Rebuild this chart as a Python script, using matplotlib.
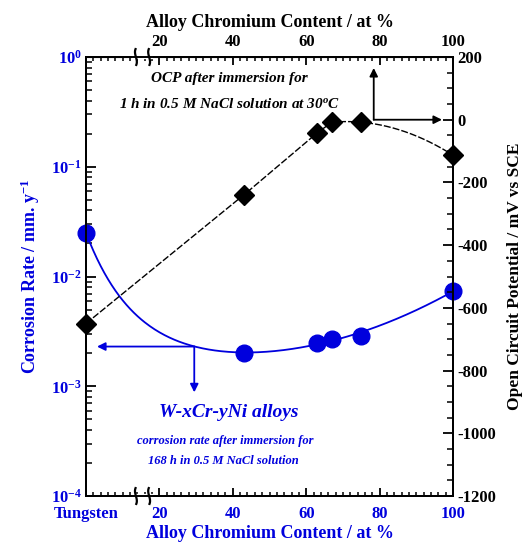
import numpy as np
import matplotlib
matplotlib.use("Agg")
import matplotlib.pyplot as plt
from matplotlib.ticker import MultipleLocator, FixedLocator, FixedFormatter, LogLocator, NullFormatter
import matplotlib.transforms as mtransforms

plt.rcParams['font.family'] = ['Liberation Serif', 'DejaVu Serif']
plt.rcParams['font.weight'] = 'bold'
plt.rcParams['mathtext.fontset'] = 'custom'
plt.rcParams['mathtext.rm'] = 'Liberation Serif:bold'
plt.rcParams['mathtext.it'] = 'Liberation Serif:italic:bold'
plt.rcParams['mathtext.bf'] = 'Liberation Serif:bold'
plt.rcParams['axes.unicode_minus'] = False

BLUE = '#0000DD'

# ---- data ----
cr_content = [0, 43, 63, 67, 75, 100]            # at % Cr (0 = pure tungsten)
corrosion_rate = [0.025, 0.0020, 0.0025, 0.0027, 0.0029, 0.0074]  # mm/y
ocp_content = [0, 43, 63, 67, 75, 100]
ocp_values = [-650, -240, -42, -8, -8, -113]     # mV vs SCE

x_ticks = [0, 20, 40, 60, 80, 100]
x_ticklabels_bottom = ['Tungsten', '20', '40', '60', '80', '100']
x_ticklabels_top = ['', '20', '40', '60', '80', '100']

fig = plt.figure(figsize=(5.26, 5.46), dpi=100)
ax = fig.add_axes([86/526, 50/546, (453-86)/526, (496-57)/546])

# ---- corrosion rate (left, log) ----
ax.set_yscale('log')
ax.set_xlim(0, 100)
ax.set_ylim(1e-4, 1)
# smooth trend curve: least-squares fit in log space (decay + quadratic)
xc = np.asarray(cr_content, float)
basis = lambda x: np.column_stack([np.ones_like(x), np.exp(-x / 12.0), x, x**2])
coef, *_ = np.linalg.lstsq(basis(xc), np.log10(corrosion_rate), rcond=None)
xs = np.linspace(0, 100, 300)
ax.plot(xs, 10**(basis(xs) @ coef), color=BLUE, lw=1.3, zorder=2)
ax.plot(cr_content, corrosion_rate, 'o', color=BLUE, ms=12, zorder=3, clip_on=False)

ax.yaxis.set_major_locator(LogLocator(base=10, numticks=10))
ax.yaxis.set_minor_locator(LogLocator(base=10, subs=np.arange(2, 10), numticks=10))
ax.yaxis.set_minor_formatter(NullFormatter())
ax.tick_params(axis='y', which='both', direction='in', colors='black', labelcolor=BLUE, labelsize=12, pad=3)
ax.tick_params(axis='y', which='major', length=7, width=1.3)
ax.tick_params(axis='y', which='minor', length=4, width=1.1)
ax.set_ylabel('Corrosion Rate / mm. y$^{-1}$', color=BLUE, fontsize=13, fontweight='bold', labelpad=6)

ax.xaxis.set_major_locator(FixedLocator(x_ticks))
ax.xaxis.set_major_formatter(FixedFormatter(x_ticklabels_bottom))
ax.xaxis.set_minor_locator(MultipleLocator(2))
ax.tick_params(axis='x', which='both', direction='in', labelcolor=BLUE, labelsize=12, pad=7)
ax.tick_params(axis='x', which='major', length=6, width=1.3)
ax.tick_params(axis='x', which='minor', length=3, width=1.1)
ax.set_xlabel('Alloy Chromium Content / at %', color=BLUE, fontsize=13, fontweight='bold', labelpad=2)
for lab in ax.get_xticklabels():
    lab.set_fontweight('bold')
for lab in ax.get_yticklabels():
    lab.set_fontweight('bold')

# blue arrows (indicating corrosion-rate axis)
arrow_x, arrow_y = 29.5, 0.0023
ax.annotate('', xy=(3, arrow_y), xytext=(arrow_x, arrow_y),
            arrowprops=dict(arrowstyle='-|>', color=BLUE, lw=1.3, mutation_scale=12, shrinkA=0, shrinkB=0))
ax.annotate('', xy=(arrow_x, 0.00088), xytext=(arrow_x, arrow_y),
            arrowprops=dict(arrowstyle='-|>', color=BLUE, lw=1.3, mutation_scale=12, shrinkA=0, shrinkB=0))

# top axis
top = ax.secondary_xaxis('top')
top.xaxis.set_major_locator(FixedLocator(x_ticks))
top.xaxis.set_major_formatter(FixedFormatter(x_ticklabels_top))
top.xaxis.set_minor_locator(MultipleLocator(2))
top.tick_params(which='both', direction='in', labelsize=12, pad=5)
top.tick_params(which='major', length=6, width=1.3)
top.tick_params(which='minor', length=3, width=1.1)
top.set_xlabel('Alloy Chromium Content / at %', fontsize=13, fontweight='bold', labelpad=5)
for lab in top.get_xticklabels():
    lab.set_fontweight('bold')

# ---- OCP (right) ----
ax2 = ax.twinx()
ax2.set_ylim(-1200, 200)
ax2.yaxis.set_major_locator(MultipleLocator(200))
ax2.yaxis.set_minor_locator(MultipleLocator(50))
ax2.tick_params(axis='y', which='both', direction='in', labelsize=12, pad=3)
ax2.tick_params(axis='y', which='major', length=7, width=1.3)
ax2.tick_params(axis='y', which='minor', length=4, width=1.1)
for lab in ax2.get_yticklabels():
    lab.set_fontweight('bold')
ax2.set_ylabel('Open Circuit Potential / mV vs SCE', fontsize=12.5, fontweight='bold',
               rotation=90, labelpad=8)

# black line: straight through first points, smooth over last ones
lin_x = np.linspace(ocp_content[0], ocp_content[3], 100)
lin_y = np.interp(lin_x, ocp_content[:4], ocp_values[:4])
qc = np.polyfit(ocp_content[3:], ocp_values[3:], 2)
cur_x = np.linspace(ocp_content[3], ocp_content[-1], 100)
cur_y = np.polyval(qc, cur_x)
ax2.plot(np.r_[lin_x, cur_x], np.r_[lin_y, cur_y], color='black', lw=1.0,
         linestyle=(0, (5, 1.5)), zorder=2)
ax2.plot(ocp_content, ocp_values, 'D', color='black', ms=10, zorder=3, clip_on=False)

# black arrows (indicating OCP axis)
oa_x, oa_y = 78.4, 0
ax2.annotate('', xy=(oa_x, 165), xytext=(oa_x, oa_y),
             arrowprops=dict(arrowstyle='-|>', color='black', lw=1.3, mutation_scale=12, shrinkA=0, shrinkB=0))
ax2.annotate('', xy=(97, oa_y), xytext=(oa_x, oa_y),
             arrowprops=dict(arrowstyle='-|>', color='black', lw=1.3, mutation_scale=12, shrinkA=0, shrinkB=0))

for a in (ax, ax2):
    for s in a.spines.values():
        s.set_linewidth(1.4)

# axis break marks on top and bottom spines
trans = mtransforms.blended_transform_factory(ax.transData, ax.transAxes)
t = np.linspace(-1, 1, 30)
for yb in (0.0, 1.0):
    ax.plot([13.2, 17.6], [yb, yb], color='white', lw=3, transform=trans, clip_on=False, zorder=5)
    for xb in (13.6, 17.2):
        ax.plot(xb - 0.6 * t + 0.5 * t**3, yb + 0.018 * t, color='black', lw=1.6,
                transform=trans, clip_on=False, zorder=6)

# annotations
ax.text(39, 0.64, 'OCP after immersion for', ha='center', va='center',
        fontsize=11, fontstyle='italic', fontweight='bold')
ax.text(39, 0.37, '1 h in 0.5 M NaCl solution at 30$^{o}$C', ha='center', va='center',
        fontsize=11, fontstyle='italic', fontweight='bold')
ax.text(39, 0.00058, 'W-xCr-yNi alloys', ha='center', va='center', color=BLUE,
        fontsize=14, fontstyle='italic', fontweight='bold')
ax.text(38, 0.00032, 'corrosion rate after immersion for', ha='center', va='center', color=BLUE,
        fontsize=9, fontstyle='italic', fontweight='bold')
ax.text(37.5, 0.00021, '168 h in 0.5 M NaCl solution', ha='center', va='center', color=BLUE,
        fontsize=9, fontstyle='italic', fontweight='bold')

fig.savefig('out.png', dpi=100)
